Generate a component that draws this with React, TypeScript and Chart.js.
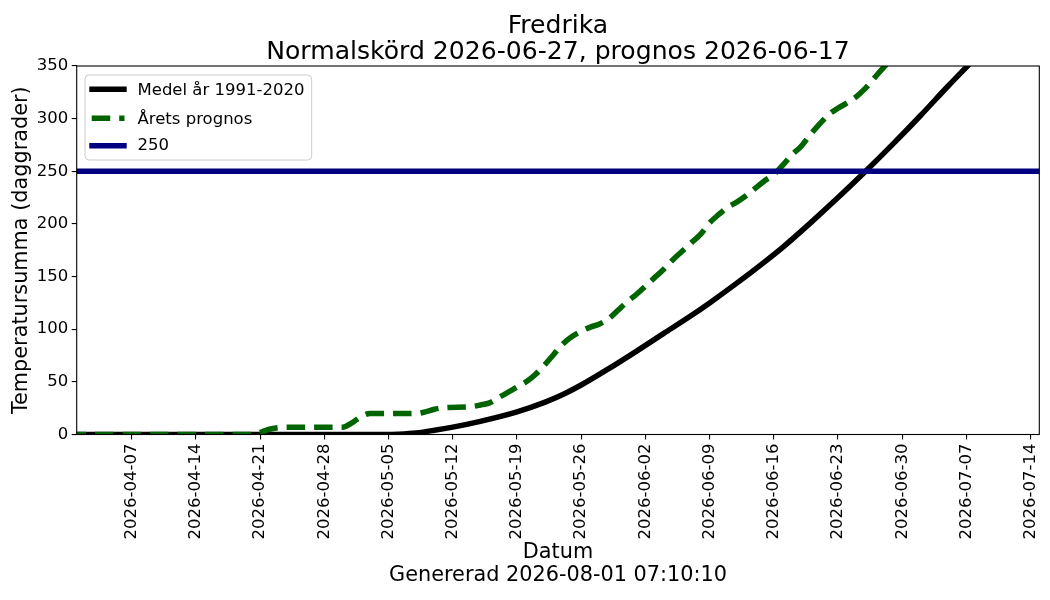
import React, { useEffect, useRef } from "react";
import { Chart, registerables } from "chart.js";

Chart.register(...registerables);

// ---- data ----
const START_DATE = "2026-04-01";
const titleLines = ["Fredrika", "Normalskörd 2026-06-27, prognos 2026-06-17"];
const yAxisTitle = "Temperatursumma (daggrader)";
const xAxisTitleLines = ["Datum", "Genererad 2026-08-01 07:10:10"];
const xTickLabels = [
  "2026-04-07", "2026-04-14", "2026-04-21", "2026-04-28", "2026-05-05",
  "2026-05-12", "2026-05-19", "2026-05-26", "2026-06-02", "2026-06-09",
  "2026-06-16", "2026-06-23", "2026-06-30", "2026-07-07", "2026-07-14",
];
const yTickValues = [0, 50, 100, 150, 200, 250, 300, 350];
const xRange = ["2026-04-01", "2026-07-15"];

const meanLabel = "Medel år 1991-2020";
const meanDays = [-1, 0, 20, 34, 35, 37, 39, 41, 44, 48, 51, 53, 55, 58, 61, 64, 67, 69, 72, 75, 77, 80, 83, 86, 89, 92, 95, 97, 99];
const meanValues = [0, 0, 0, 0, 0.3, 1.5, 4, 7, 12.5, 21.5, 30.5, 38, 47, 62.5, 79, 96, 113, 125, 144, 164, 178, 201, 225, 250, 276, 303, 331, 349, 367];

const forecastLabel = "Årets prognos";
const forecastDays = [-1, 0, 10, 19, 20, 21, 22, 23, 26, 29, 30, 31, 32, 35, 37, 38, 39, 40, 43, 44, 45, 46, 47, 48, 49, 50, 51, 52, 53, 54, 55, 56, 57, 58, 59, 60, 61, 62, 63, 64, 65, 66, 67, 68, 69, 70, 71, 72, 73, 74, 75, 76, 77, 78, 79, 80, 81, 82, 83, 84, 85, 86, 87, 88, 89];
const forecastValues = [0, 0, 0, 0, 2, 5, 6.5, 7, 7, 7, 11, 17, 20, 20, 20, 21.5, 24, 25.5, 26.5, 28, 30, 35, 40, 45, 50, 57, 66, 76, 86, 93, 98, 102, 105, 110, 118, 126, 133, 141, 149, 157, 166, 174, 182, 190, 201, 209, 216, 221, 227, 234, 241, 247, 256, 266, 274, 285, 295, 304, 310, 315, 321, 329, 339, 349, 358];

const thresholdLabel = "250";
const thresholdValue = 250;

const FONT = "'DejaVu Sans', 'Liberation Sans', sans-serif";

function dayOf(s: string): number {
  return (Date.parse(s) - Date.parse(START_DATE)) / 864e5;
}

const framePlugin = {
  id: "frameAndText",
  afterDatasetsDraw(chart: any) {
    const { ctx, chartArea } = chart;
    const { left, right, top, bottom } = chartArea;
    ctx.save();
    ctx.strokeStyle = "#000";
    ctx.lineWidth = 1.1;
    ctx.strokeRect(left, top, right - left, bottom - top);

    const ds = chart.data.datasets;
    const bx = 85, by = 75, bw = 226.7, bh = 85, r = 4;
    ctx.beginPath();
    ctx.moveTo(bx + r, by);
    ctx.lineTo(bx + bw - r, by);
    ctx.quadraticCurveTo(bx + bw, by, bx + bw, by + r);
    ctx.lineTo(bx + bw, by + bh - r);
    ctx.quadraticCurveTo(bx + bw, by + bh, bx + bw - r, by + bh);
    ctx.lineTo(bx + r, by + bh);
    ctx.quadraticCurveTo(bx, by + bh, bx, by + bh - r);
    ctx.lineTo(bx, by + r);
    ctx.quadraticCurveTo(bx, by, bx + r, by);
    ctx.closePath();
    ctx.fillStyle = "rgba(255,255,255,0.8)";
    ctx.fill();
    ctx.strokeStyle = "rgba(204,204,204,1)";
    ctx.lineWidth = 1;
    ctx.stroke();

    const rowLine = [89.3, 118.3, 145.7];
    const rowBase = [95, 124, 150];
    ds.forEach((d: any, i: number) => {
      ctx.beginPath();
      ctx.strokeStyle = d.borderColor;
      ctx.lineWidth = d.borderWidth;
      ctx.lineCap = "butt";
      if (d.borderDash && d.borderDash.length) {
        ctx.setLineDash(d.borderDash);
        ctx.moveTo(91.7, rowLine[i]);
        ctx.lineTo(124.5, rowLine[i]);
      } else {
        ctx.setLineDash([]);
        ctx.moveTo(89.3, rowLine[i]);
        ctx.lineTo(126.7, rowLine[i]);
      }
      ctx.stroke();
      ctx.setLineDash([]);
      ctx.fillStyle = "#000";
      ctx.font = `16.5px ${FONT}`;
      ctx.textAlign = "left";
      ctx.textBaseline = "alphabetic";
      ctx.fillText(d.label, 137.5, rowBase[i]);
    });
    ctx.restore();
  },
  afterDraw(chart: any) {
    const { ctx, chartArea } = chart;
    const cx = (chartArea.left + chartArea.right) / 2;
    const cy = (chartArea.top + chartArea.bottom) / 2;
    ctx.save();
    ctx.fillStyle = "#000";
    ctx.textAlign = "center";
    ctx.textBaseline = "alphabetic";
    ctx.font = `25.1px ${FONT}`;
    ctx.fillText(titleLines[0], cx, 32.7);
    ctx.fillText(titleLines[1], cx, 59.3);
    ctx.font = `20.8px ${FONT}`;
    ctx.fillText(xAxisTitleLines[0], cx, 558.3);
    ctx.fillText(xAxisTitleLines[1], cx, 580.5);
    ctx.translate(27, cy);
    ctx.rotate(-Math.PI / 2);
    ctx.fillText(yAxisTitle, 0, 0);
    ctx.restore();
  },
};

export default function App() {
  const ref = useRef<HTMLCanvasElement | null>(null);

  useEffect(() => {
    if (!ref.current) return;
    const xMin = dayOf(xRange[0]);
    const xMax = dayOf(xRange[1]) - 0.06;
    const tickDays = xTickLabels.map(dayOf);
    const labelByDay = new Map<number, string>();
    xTickLabels.forEach((l, i) => labelByDay.set(tickDays[i], l));

    const chart = new Chart(ref.current, {
      type: "line",
      data: {
        datasets: [
          {
            label: meanLabel,
            data: meanDays.map((d, i) => ({ x: d, y: meanValues[i] })),
            borderColor: "#000000",
            borderWidth: 5.5,
            pointRadius: 0,
            cubicInterpolationMode: "monotone",
            fill: false,
            clip: 0,
            order: 2,
          } as any,
          {
            label: forecastLabel,
            data: forecastDays.map((d, i) => ({ x: d, y: forecastValues[i] })),
            borderColor: "#006400",
            borderWidth: 5.5,
            borderDash: [18.5, 9],
            borderCapStyle: "butt",
            pointRadius: 0,
            cubicInterpolationMode: "monotone",
            fill: false,
            clip: 0,
            order: 1,
          } as any,
          {
            label: thresholdLabel,
            data: [
              { x: xMin - 2, y: thresholdValue },
              { x: xMax + 2, y: thresholdValue },
            ],
            borderColor: "#000080",
            borderWidth: 5.5,
            pointRadius: 0,
            fill: false,
            clip: 0,
            order: 0,
          } as any,
        ],
      },
      options: {
        animation: false,
        responsive: true,
        maintainAspectRatio: false,
        devicePixelRatio: 1,
        layout: { padding: { left: 0, top: 66, right: 10.7, bottom: 0 } },
        plugins: {
          legend: { display: false },
          title: { display: false },
          tooltip: { enabled: false },
        },
        scales: {
          x: {
            type: "linear",
            min: xMin,
            max: xMax,
            grid: {
              drawOnChartArea: false,
              drawTicks: true,
              tickLength: 5,
              color: "#000",
              lineWidth: 1.1,
            },
            border: { display: false },
            afterBuildTicks: (scale: any) => {
              scale.ticks = tickDays.map((v) => ({ value: v }));
            },
            afterFit: (scale: any) => {
              scale.height = 600 - 434.5;
              scale.paddingLeft = 0;
              scale.paddingRight = 0;
            },
            ticks: {
              autoSkip: false,
              maxRotation: 90,
              minRotation: 90,
              padding: 4,
              color: "#000",
              font: { family: FONT, size: 16.5 },
              callback: (v: any) => labelByDay.get(v) ?? "",
            },
          },
          y: {
            type: "linear",
            min: 0,
            max: 350,
            grid: {
              drawOnChartArea: false,
              drawTicks: true,
              tickLength: 5,
              color: "#000",
              lineWidth: 1.1,
            },
            border: { display: false },
            afterBuildTicks: (scale: any) => {
              scale.ticks = yTickValues.map((v) => ({ value: v }));
            },
            afterFit: (scale: any) => {
              scale.width = 76.7;
              scale.paddingTop = 0;
              scale.paddingBottom = 0;
            },
            ticks: {
              padding: 3.5,
              color: "#000",
              font: { family: FONT, size: 16.5 },
              callback: (v: any) => String(v),
            },
          },
        },
      },
      plugins: [framePlugin],
    });
    return () => chart.destroy();
  }, []);

  return (
    <div style={{ position: "absolute", left: 0, top: 0, width: 1050, height: 600, background: "#fff" }}>
      <canvas ref={ref} />
    </div>
  );
}
